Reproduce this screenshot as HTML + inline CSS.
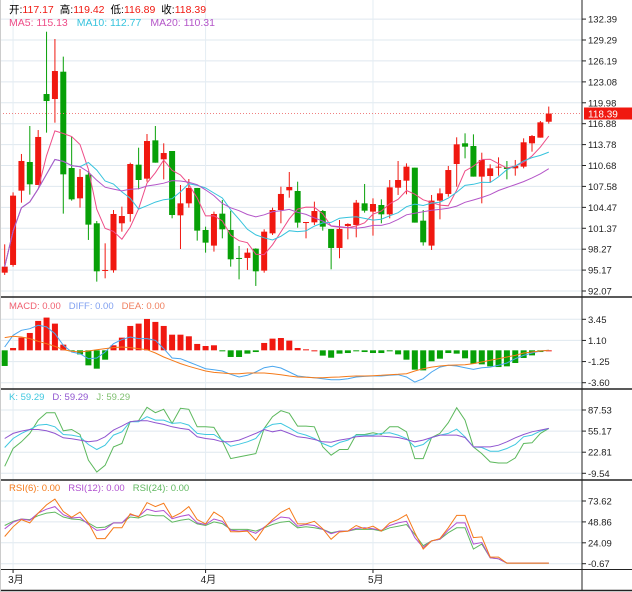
<!DOCTYPE html>
<html><head><meta charset="utf-8"><style>
html,body{margin:0;padding:0;background:#fff;}
svg{display:block;font-family:"Liberation Sans","Noto Sans CJK SC",sans-serif;}
</style></head><body>
<svg id="chart" width="632" height="592" viewBox="0 0 632 592" xmlns="http://www.w3.org/2000/svg">
<rect x="0" y="0" width="632" height="592" fill="#fff"/>
<g id="grid"></g>
<g id="marks"></g>
<g id="axes"></g>
<g font-size="10.5">
<text x="9" y="13"><tspan fill="#000">开:</tspan><tspan fill="#f01810">117.17</tspan><tspan fill="#000" dx="6">高:</tspan><tspan fill="#f01810">119.42</tspan><tspan fill="#000" dx="6">低:</tspan><tspan fill="#f01810">116.89</tspan><tspan fill="#000" dx="6">收:</tspan><tspan fill="#f01810">118.39</tspan></text>
<text x="9" y="26"><tspan fill="#ee4d88">MA5: 115.13</tspan><tspan fill="#36c3dd" dx="9">MA10: 112.77</tspan><tspan fill="#b455c8" dx="9">MA20: 110.31</tspan></text>
</g>
<text x="9" y="309" font-size="9.5"><tspan fill="#f06070">MACD: 0.00</tspan><tspan fill="#80a0f0" dx="8">DIFF: 0.00</tspan><tspan fill="#f08060" dx="8">DEA: 0.00</tspan></text>
<text x="9" y="400" font-size="9.5"><tspan fill="#40c8e0">K: 59.29</tspan><tspan fill="#9055d0" dx="8">D: 59.29</tspan><tspan fill="#80c070" dx="8">J: 59.29</tspan></text>
<text x="9" y="491" font-size="9.5"><tspan fill="#f57a1a">RSI(6): 0.00</tspan><tspan fill="#b050d0" dx="8">RSI(12): 0.00</tspan><tspan fill="#60b860" dx="8">RSI(24): 0.00</tspan></text>
</svg>
<script>
const opens=[94.79,95.93,106.95,111.20,107.79,121.28,120.54,124.59,110.31,105.81,109.32,102.11,95.09,95.14,102.11,103.49,110.80,108.73,114.41,111.60,112.83,103.29,105.07,107.35,101.12,98.80,103.54,101.12,96.97,96.97,98.35,95.09,100.62,104.08,107.00,106.90,102.21,102.25,103.93,101.27,98.45,101.71,101.86,105.07,103.84,104.82,103.44,107.39,108.43,110.36,102.50,98.80,105.47,106.46,110.90,113.97,113.57,109.03,109.12,110.41,110.41,110.26,110.51,113.97,114.81,117.17];
const highs=[98.99,106.70,112.39,116.54,115.94,130.52,129.44,126.82,114.96,110.16,109.87,102.45,99.14,104.08,104.58,111.10,113.32,115.35,116.54,113.97,112.83,107.79,108.68,107.35,101.61,103.84,105.57,103.98,98.75,98.40,98.40,101.22,104.43,107.54,109.72,108.28,102.30,105.32,104.08,101.27,102.60,102.11,105.57,107.94,105.81,105.66,108.53,111.35,111.00,110.36,104.08,106.31,107.29,110.61,114.86,115.45,115.30,112.58,110.85,111.89,111.35,111.50,114.71,115.20,117.28,119.42];
const lows=[94.45,95.68,105.17,106.36,107.79,115.55,117.03,103.54,105.47,104.43,99.64,93.46,93.95,94.79,100.87,102.35,107.15,108.28,111.10,108.63,102.85,98.30,104.43,99.54,97.76,97.91,99.88,95.68,93.80,95.19,92.82,94.79,100.38,102.11,105.91,101.46,99.88,101.86,101.02,95.29,96.92,99.73,100.03,103.69,100.28,102.11,102.85,106.31,106.41,102.21,98.80,98.15,102.70,106.06,107.54,111.74,109.03,105.07,108.14,109.17,108.63,109.17,110.26,112.73,114.81,116.89];
const closes=[95.68,106.21,111.35,107.89,114.91,120.24,124.69,109.37,105.66,108.98,101.91,94.99,95.19,103.49,103.19,110.90,108.53,114.31,111.10,112.53,103.34,105.07,107.35,101.02,99.24,103.49,101.22,96.77,96.92,97.76,94.99,100.87,104.08,106.46,107.49,102.21,102.30,103.93,101.61,98.45,101.27,102.01,105.17,103.98,104.97,103.44,107.44,108.53,110.51,102.21,99.29,105.47,106.55,110.01,113.82,113.47,109.03,111.50,110.26,110.51,110.16,110.61,114.12,115.05,117.08,118.39];
const macdBars=[-1.74,0.26,1.41,1.93,3.27,3.64,2.97,0.63,-0.07,-0.45,-1.67,-2.04,-1.04,0.56,1.41,2.71,2.97,3.49,3.16,2.71,1.74,1.74,1.56,0.71,0.48,0.56,-0.11,-0.74,-0.74,-0.37,-0.19,0.82,1.30,1.37,1.08,0.26,0.11,0,-0.59,-0.82,-0.37,-0.30,-0.11,-0.19,-0.30,-0.30,-0.11,-0.45,-1.04,-2.15,-2.23,-1.22,-0.93,-0.30,-0.37,-0.89,-1.48,-1.56,-1.78,-1.86,-1.78,-1.41,-0.85,-0.56,-0.19,0];
const diffVals=[0.37,1.67,2.23,2.41,2.78,2.60,1.86,0.56,-0.19,-0.37,-0.93,-0.85,-0.19,0.74,1.19,1.48,1.30,1.30,1.11,0.19,-0.85,-0.93,-1.30,-1.67,-2.04,-2.15,-2.30,-2.67,-2.97,-2.78,-2.41,-1.93,-1.78,-1.97,-2.41,-2.86,-2.97,-3.04,-3.16,-3.27,-3.27,-3.16,-2.97,-2.90,-2.86,-2.86,-2.78,-2.71,-2.97,-3.53,-3.16,-2.41,-1.86,-1.67,-1.74,-1.93,-2.12,-1.93,-1.86,-1.67,-1.41,-0.93,-0.56,-0.30,-0.07,0];
const deaVals=[1.41,1.56,1.48,1.30,1.00,0.74,0.45,0.07,-0.11,-0.19,-0.07,0.07,0.19,0.30,0.37,0.30,0.19,0.07,-0.30,-0.74,-1.11,-1.48,-1.78,-2.04,-2.30,-2.45,-2.52,-2.60,-2.60,-2.52,-2.52,-2.52,-2.60,-2.71,-2.86,-2.97,-3.00,-3.04,-3.04,-3.00,-2.97,-2.90,-2.86,-2.86,-2.82,-2.78,-2.71,-2.67,-2.60,-2.30,-2.04,-1.86,-1.74,-1.67,-1.63,-1.60,-1.48,-1.30,-1.11,-0.93,-0.74,-0.56,-0.30,-0.19,-0.07,0];
const kVals=[30.0,43.8,51.6,57.7,64.4,65.4,61.8,50.0,49.0,46.4,34.6,26.9,33.6,49.0,54.1,69.6,69.6,77.2,72.1,72.1,67.0,68.0,64.4,51.6,50.0,50.0,41.3,32.0,35.1,38.7,43.8,59.3,65.4,67.0,60.3,52.6,49.0,43.8,36.2,31.0,37.7,41.3,49.0,49.0,49.0,51.6,52.6,49.0,43.8,31.0,34.6,45.4,49.0,51.6,58.3,46.4,31.0,30.0,24.3,24.3,28.5,34.6,46.4,49.0,55.2,59.3];
const dVals=[43.8,51.6,55.2,57.7,57.7,55.7,51.6,44.9,43.3,41.3,38.7,40.3,46.4,56.7,62.9,69.6,71.1,71.1,68.0,65.4,61.8,59.3,57.7,46.4,43.8,42.3,38.7,38.7,41.3,46.4,51.6,57.7,54.1,56.7,51.6,46.4,44.9,42.3,38.7,38.2,41.3,43.3,46.4,47.5,47.5,47.5,46.4,45.4,42.3,38.7,41.3,45.4,49.0,49.0,49.0,45.4,31.0,31.0,31.0,33.6,38.7,44.9,50.0,54.1,56.7,59.3];
const jVals=[1.2,28.5,38.7,51.6,72.1,83.4,83.4,55.7,57.7,50.0,10.5,-7.5,2.8,31.0,36.2,69.6,71.1,91.6,83.4,88.6,67.0,90.1,88.6,61.8,61.8,60.8,39.8,13.0,15.6,18.2,20.7,59.3,77.2,86.5,82.4,62.9,62.9,61.8,31.0,18.2,26.9,26.9,50.0,50.0,52.6,50.0,61.8,61.8,54.1,13.0,13.0,45.4,51.6,68.0,91.1,72.1,31.0,20.7,7.9,6.3,6.3,14.1,36.2,37.2,51.6,59.3];
const rsi6=[31.5,43.1,51.6,47.7,59.3,69.0,75.9,61.2,54.3,60.5,47.7,29.1,29.1,41.9,41.9,58.5,54.7,71.7,67.0,70.9,54.3,59.3,67.0,51.6,46.5,60.5,54.3,37.3,37.3,38.0,27.2,41.9,51.6,60.1,65.1,46.5,46.5,49.6,40.7,28.2,36.9,38.0,44.6,40.7,43.8,38.0,47.7,51.6,57.4,36.1,16.7,26.4,29.1,41.9,56.6,56.6,30.3,31.1,7.1,7.1,0,0,0,0,0,0];
const rsi12=[40.7,48.5,52.3,50.8,59.3,63.9,67.0,57.4,53.5,54.3,45.8,38.8,40.0,47.7,47.7,57.4,55.4,63.9,61.2,62.4,52.7,55.4,57.4,47.7,45.8,52.3,49.6,39.2,38.0,38.8,35.3,42.7,49.6,54.7,53.5,43.8,45.8,44.6,40.0,34.9,38.0,38.0,41.1,41.9,40.7,38.8,44.6,47.7,49.6,30.3,18.7,26.4,28.2,39.2,47.7,47.7,22.6,24.5,6.3,5.1,0,0,0,0,0,0];
const rsi24=[44.6,49.6,52.3,51.6,56.2,59.3,60.5,54.7,52.3,51.6,47.7,41.9,42.7,47.7,47.7,54.7,53.5,57.4,56.2,56.2,48.5,50.8,52.3,46.5,44.6,48.9,46.9,40.0,40.0,40.0,38.0,41.9,45.8,48.5,49.6,41.9,43.1,41.9,40.0,36.1,38.0,38.0,40.0,40.0,40.0,38.0,41.9,43.8,45.8,34.2,20.6,26.4,28.2,36.1,41.9,41.9,16.7,22.6,6.3,5.1,0,0,0,0,0,0];
const priceTicks=[132.39,129.29,126.19,123.08,119.98,116.88,113.78,110.68,107.58,104.47,101.37,98.27,95.17,92.07];
const macdTicks=[3.45,1.10,-1.25,-3.60];
const kdjTicks=[87.53,55.17,22.81,-9.54];
const rsiTicks=[73.62,48.86,24.09,-0.67];
const monthLabels=["3月","4月","5月"];
const monthIndex=[1,24,44];

const NS="http://www.w3.org/2000/svg";
const grid=document.getElementById('grid'),marks=document.getElementById('marks'),axes=document.getElementById('axes');
function mk(tag,attrs,parent){const e=document.createElementNS(NS,tag);for(const k in attrs)e.setAttribute(k,attrs[k]);parent.appendChild(e);return e;}
const X0=4.7,DX=8.37,AXX=582;
const xAt=i=>X0+i*DX;
function lin(v0,y0,v1,y1){return v=>y0+(v-v0)*(y1-y0)/(v1-v0);}
const yP=lin(92.07,291,129.29,40);
const yM=lin(-3.60,382.7,3.45,319.3);
const yK=lin(-9.54,473.3,87.53,410);
const yR=lin(-0.67,563.7,73.62,501);
function ma(a,n){return a.map((v,i)=>{const s=a.slice(Math.max(0,i-n+1),i+1);return s.reduce((p,c)=>p+c,0)/s.length;});}
const ma5=ma(closes,5),ma10=ma(closes,10),ma20=ma(closes,20);

const hlines=[[priceTicks,yP],[macdTicks,yM],[kdjTicks,yK],[rsiTicks,yR]];
hlines.forEach(([t,f])=>t.forEach(v=>{const l=mk('line',{x1:0,x2:AXX,y1:f(v),y2:f(v),stroke:'#dfe8ef','stroke-width':1},grid);}));
monthIndex.forEach(i=>{const l=mk('line',{x1:xAt(i),x2:xAt(i),y1:0,y2:569,stroke:'#e4edf3','stroke-width':1},grid);});

closes.forEach((c,i)=>{const o=opens[i];const up=c>=o;const col=up?'#f01810':'#07a007';const x=xAt(i);
const g=mk('g',{},marks);
mk('line',{x1:x,x2:x,y1:yP(highs[i]),y2:yP(lows[i]),stroke:col,'stroke-width':1},g);
const yt=yP(Math.max(o,c)),yb=yP(Math.min(o,c));mk('rect',{x:x-3,y:yt,width:6,height:Math.max(1,yb-yt),fill:col},g);});
function line(arr,f,col,name){const p=mk('polyline',{points:arr.map((v,i)=>xAt(i).toFixed(1)+','+f(v).toFixed(1)).join(' '),fill:'none',stroke:col,'stroke-width':1},marks);}
line(ma5,yP,'#ee4d88','ma5-line');line(ma10,yP,'#36c3dd','ma10-line');line(ma20,yP,'#b455c8','ma20-line');
const lc=closes[closes.length-1];
const dl=mk('line',{x1:0,x2:AXX,y1:yP(lc),y2:yP(lc),stroke:'#f08080','stroke-width':1,'stroke-dasharray':'1,2'},marks);
macdBars.forEach((v,i)=>{const y0=yM(0),y1=yM(v);const r=mk('rect',{x:xAt(i)-3,y:Math.min(y0,y1),width:6,height:Math.max(1,Math.abs(y1-y0)),fill:v>=0?'#f01810':'#07a007'},marks);});
line(diffVals,yM,'#4aa6ee','diff-line');line(deaVals,yM,'#f57a1a','dea-line');
line(jVals,yK,'#5cb85c','j-line');line(kVals,yK,'#40c8e0','k-line');line(dVals,yK,'#9055d0','d-line');
line(rsi24,yR,'#60b860','rsi24-line');line(rsi12,yR,'#b050d0','rsi12-line');line(rsi6,yR,'#f57a1a','rsi6-line');

[[297,1.5],[389,1.5],[480,1.5],[569.5,1],[590.5,1.5]].forEach(([y,w])=>{const l=mk('line',{x1:0,x2:632,y1:y,y2:y,stroke:'#222','stroke-width':w},axes);});
const ax=mk('line',{x1:AXX,x2:AXX,y1:0,y2:591,stroke:'#222','stroke-width':1},axes);
mk('line',{x1:0.5,x2:0.5,y1:0,y2:592,stroke:'#ccc','stroke-width':1},axes);
hlines.forEach(([t,f])=>t.forEach(v=>{mk('line',{x1:AXX,x2:AXX+4,y1:f(v),y2:f(v),stroke:'#222'},axes);const tx=mk('text',{x:AXX+6,y:f(v)+3.5,'font-size':9.5,fill:'#222'},axes);tx.textContent=v.toFixed(2);}));
const pb=mk('rect',{x:AXX+2,y:yP(lc)-6,width:48,height:12,fill:'#f01810'},axes);
const pt=mk('text',{x:AXX+6,y:yP(lc)+4,'font-size':10,fill:'#fff'},axes);pt.textContent=lc.toFixed(2);
monthLabels.forEach((m,k)=>{const x=xAt(monthIndex[k]);mk('line',{x1:x,x2:x,y1:569,y2:573,stroke:'#222'},axes);const t=mk('text',{x:x-5,y:583,'font-size':10,fill:'#222'},axes);t.textContent=m;});
</script>
</body></html>
